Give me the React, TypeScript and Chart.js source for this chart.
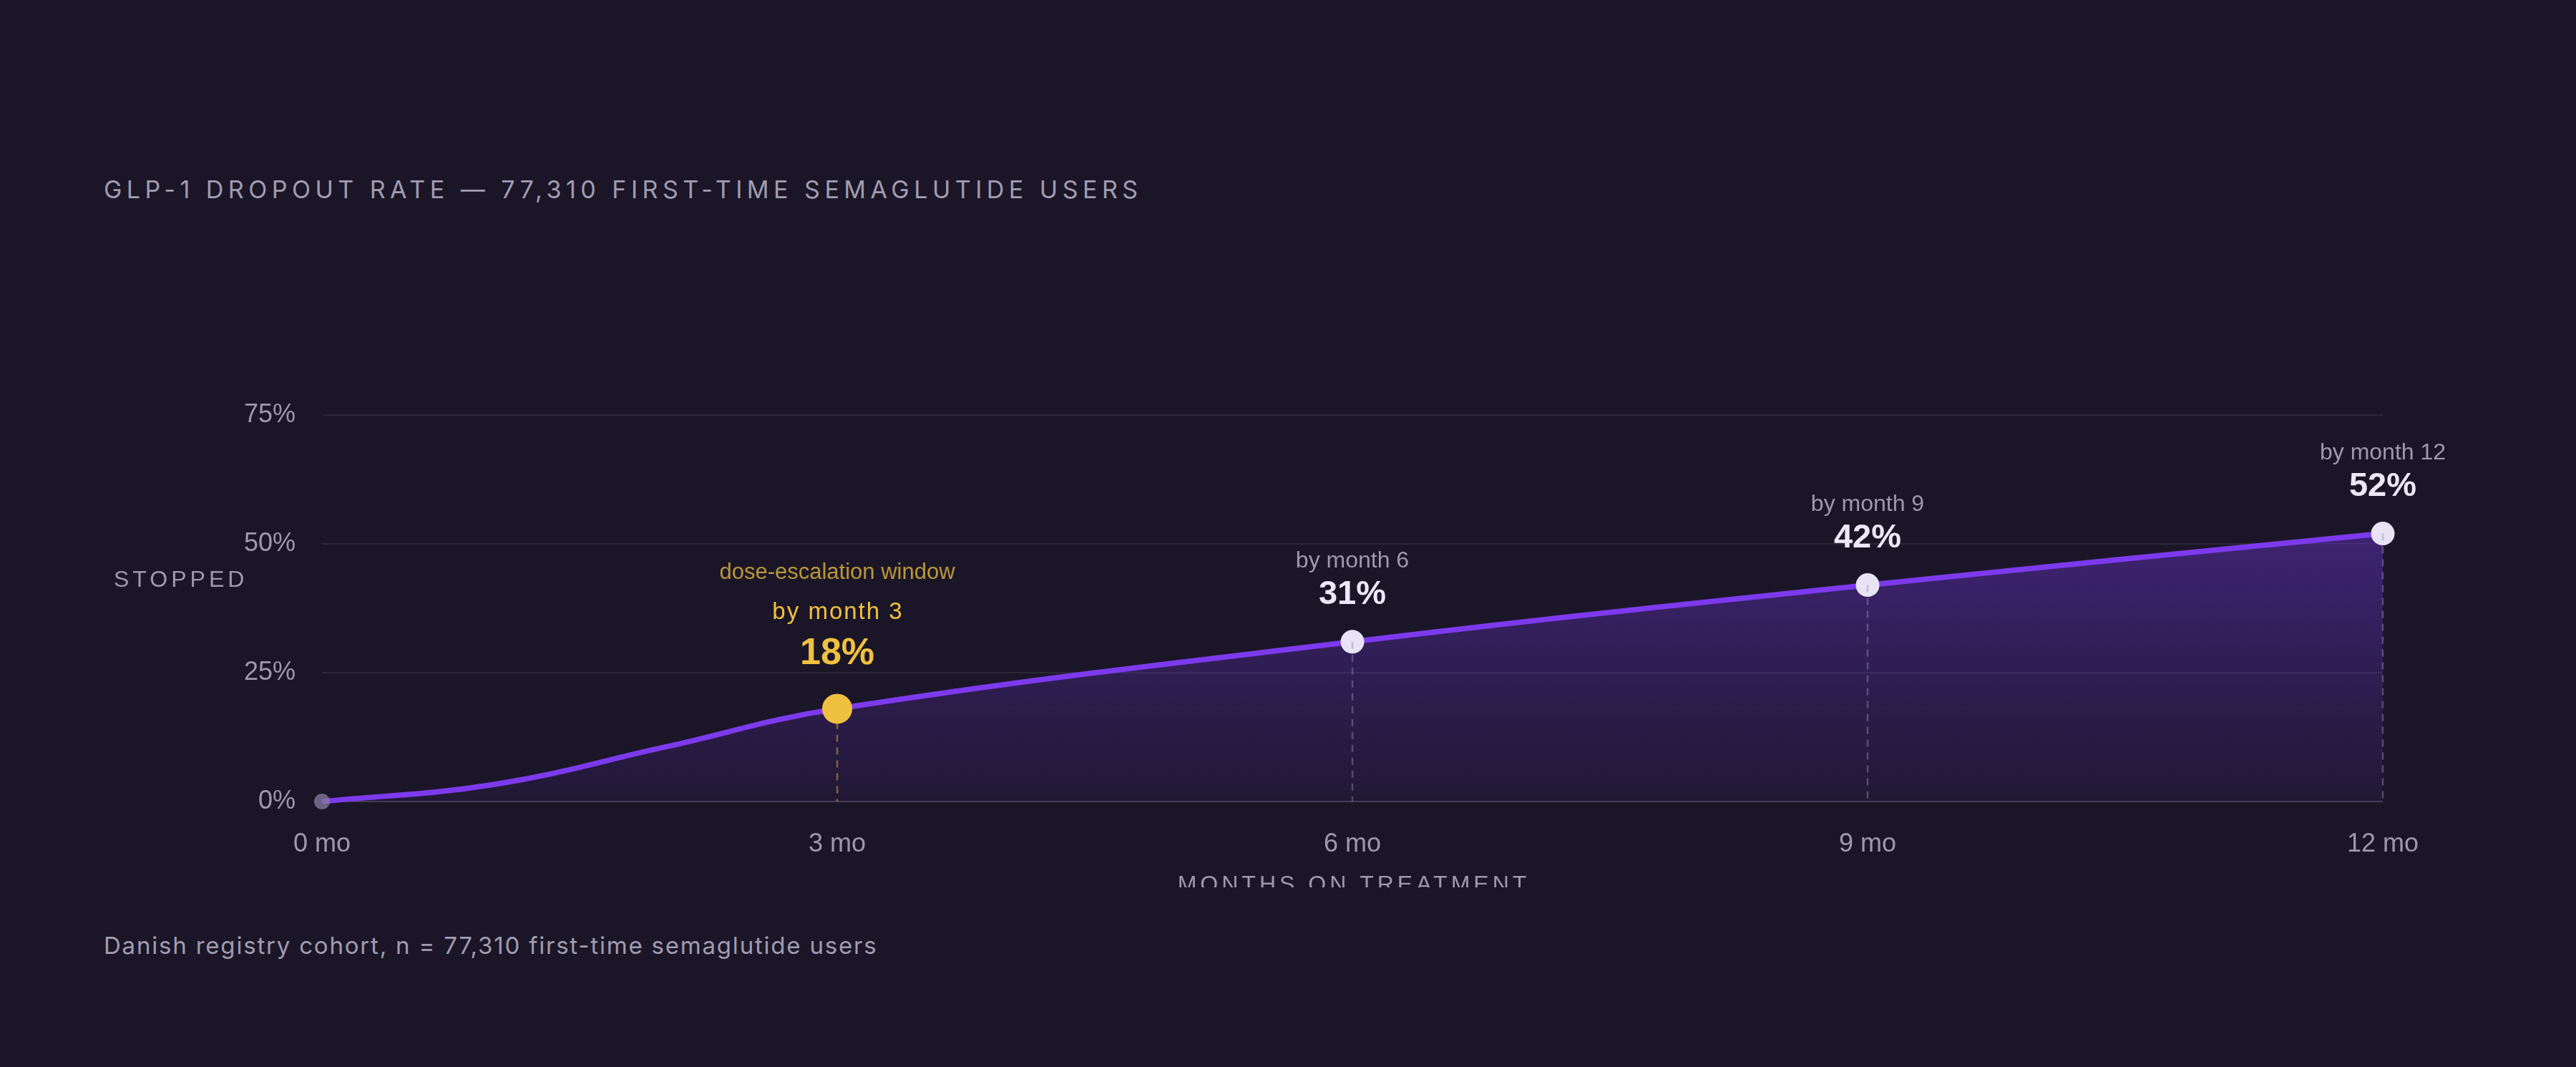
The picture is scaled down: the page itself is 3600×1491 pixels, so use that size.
import React, { useEffect, useRef } from "react";
import { Chart, registerables } from "chart.js";

Chart.register(...registerables);

// ---- data ----
const MONTHS = [0, 1, 2, 3, 6, 9, 12];
const STOPPED_PCT = [0, 3.3, 10.6, 18, 31, 42, 52];
const MILESTONE_MONTHS = [3, 6, 9, 12];
const HIGHLIGHT_MONTH = 3;
const X_TICK_STEP = 3;
const Y_TICK_STEP = 25;
const X_MAX = 12;
const Y_MAX = 75;

const TITLE = "GLP-1 DROPOUT RATE — 77,310 FIRST-TIME SEMAGLUTIDE USERS";
const FOOTNOTE = "Danish registry cohort, n = 77,310 first-time semaglutide users";
const X_TITLE = "MONTHS ON TREATMENT";
const Y_TITLE = "STOPPED";
const HIGHLIGHT_NOTE = "dose-escalation window";

const BG = "#1a1627";
const VIOLET = "#7c3aed";
const YELLOW = "#f0c040";
const MUTED = "#9d98ac";
const WHITE = "#ece8f8";
const SANS = '"Liberation Sans", Arial, Helvetica, sans-serif';

const overlayPlugin = {
  id: "overlay",
  afterDatasetsDraw(chart: any) {
    const { ctx, chartArea, scales } = chart;
    const xs = scales.x;
    const ys = scales.y;
    const y0 = ys.getPixelForValue(0);
    ctx.save();
    // dashed drop lines
    MILESTONE_MONTHS.forEach((m) => {
      const idx = MONTHS.indexOf(m);
      const px = xs.getPixelForValue(m);
      const py = ys.getPixelForValue(STOPPED_PCT[idx]);
      ctx.beginPath();
      ctx.setLineDash([10, 8]);
      ctx.lineWidth = 2.5;
      ctx.strokeStyle = m === HIGHLIGHT_MONTH ? "rgba(240,192,64,0.45)" : "rgba(150,140,178,0.45)";
      ctx.moveTo(px, py);
      ctx.lineTo(px, y0);
      ctx.stroke();
    });
    ctx.setLineDash([]);
    // annotation labels
    ctx.textAlign = "center";
    ctx.textBaseline = "alphabetic";
    MILESTONE_MONTHS.forEach((m) => {
      const idx = MONTHS.indexOf(m);
      const v = STOPPED_PCT[idx];
      const px = xs.getPixelForValue(m);
      const py = ys.getPixelForValue(v);
      if (m === HIGHLIGHT_MONTH) {
        const vb = py - 62;
        ctx.font = `bold 52px ${SANS}`;
        ctx.fillStyle = YELLOW;
        (ctx as any).letterSpacing = "0px";
        ctx.fillText(`${v}%`, px, vb);
        ctx.font = `33px ${SANS}`;
        (ctx as any).letterSpacing = "2px";
        ctx.fillText(`by month ${m}`, px + 1, vb - 63);
        (ctx as any).letterSpacing = "0px";
        ctx.font = `31px ${SANS}`;
        ctx.fillStyle = "rgba(240,192,64,0.75)";
        ctx.fillText(HIGHLIGHT_NOTE, px, vb - 63 - 56);
      } else {
        const vb = py - 53;
        (ctx as any).letterSpacing = "0px";
        ctx.font = `bold 47px ${SANS}`;
        ctx.fillStyle = WHITE;
        ctx.fillText(`${v}%`, px, vb);
        ctx.font = `32px ${SANS}`;
        ctx.fillStyle = MUTED;
        ctx.fillText(`by month ${m}`, px, vb - 51);
      }
    });
    // axis titles
    ctx.font = `32px ${SANS}`;
    ctx.fillStyle = MUTED;
    (ctx as any).letterSpacing = "5px";
    ctx.textAlign = "left";
    ctx.fillText(Y_TITLE, 159, 820);
    ctx.textAlign = "center";
    ctx.fillText(X_TITLE, (chartArea.left + chartArea.right) / 2 + 2, chartArea.bottom + 126);
    (ctx as any).letterSpacing = "0px";
    ctx.restore();
  },
};

function ChartCanvas() {
  const ref = useRef<HTMLCanvasElement | null>(null);
  useEffect(() => {
    const canvas = ref.current!;
    const points = MONTHS.map((m, i) => ({ x: m, y: STOPPED_PCT[i] }));
    const radiusFor = (m: number) =>
      m === 0 ? 11 : m === HIGHLIGHT_MONTH ? 21 : MILESTONE_MONTHS.includes(m) ? 16.5 : 0;
    const colorFor = (m: number) =>
      m === 0 ? "rgba(135,125,160,0.75)" : m === HIGHLIGHT_MONTH ? YELLOW : "#e8e4f5";
    const chart = new Chart(canvas, {
      type: "line",
      data: {
        datasets: [
          {
            data: points,
            borderColor: VIOLET,
            borderWidth: 7.5,
            tension: 0.4,
            fill: "origin",
            clip: false as any,
            backgroundColor: (c: any) => {
              const area = c.chart.chartArea;
              if (!area) return "rgba(124,58,237,0.3)";
              const g = c.chart.ctx.createLinearGradient(0, area.top, 0, area.bottom);
              g.addColorStop(0, "rgba(124,58,237,0.52)");
              g.addColorStop(1, "rgba(124,58,237,0.07)");
              return g;
            },
            pointRadius: (c: any) => radiusFor(MONTHS[c.dataIndex]),
            pointHoverRadius: (c: any) => radiusFor(MONTHS[c.dataIndex]),
            pointBackgroundColor: (c: any) => colorFor(MONTHS[c.dataIndex]),
            pointBorderWidth: 0,
            pointBorderColor: "transparent",
          },
        ],
      },
      options: {
        responsive: false,
        animation: false,
        devicePixelRatio: 1,
        layout: { padding: { left: 0, right: 270, top: 580, bottom: 0 } },
        plugins: { legend: { display: false }, tooltip: { enabled: false } },
        scales: {
          x: {
            type: "linear",
            min: 0,
            max: X_MAX,
            afterFit: (s: any) => {
              s.height = 120;
            },
            grid: { display: false, drawTicks: false },
            border: { display: false },
            ticks: {
              stepSize: X_TICK_STEP,
              padding: 38,
              color: MUTED,
              font: { family: SANS, size: 36 },
              callback: (v: any) => `${v} mo`,
            },
          },
          y: {
            min: 0,
            max: Y_MAX,
            afterFit: (s: any) => {
              s.width = 450;
            },
            grid: {
              drawTicks: false,
              lineWidth: 2,
              color: (c: any) => (c.tick && c.tick.value === 0 ? "rgba(255,255,255,0.17)" : "rgba(255,255,255,0.08)"),
            },
            border: { display: false },
            ticks: {
              stepSize: Y_TICK_STEP,
              padding: 37,
              color: MUTED,
              font: { family: SANS, size: 36 },
              callback: (v: any) => `${v}%`,
            },
          },
        },
      },
      plugins: [overlayPlugin],
    } as any);
    return () => chart.destroy();
  }, []);
  return (
    <canvas
      ref={ref}
      width={3600}
      height={1240}
      style={{ position: "absolute", left: 0, top: 0, width: 3600, height: 1240 }}
    />
  );
}

export default function App() {
  useEffect(() => {
    document.body.style.margin = "0";
    document.body.style.background = BG;
  }, []);
  return (
    <div style={{ position: "relative", width: 3600, height: 1491, background: BG, overflow: "hidden" }}>
      <div
        style={{
          position: "absolute",
          left: 145,
          top: 248,
          fontFamily: "Inter, sans-serif",
          fontSize: 34,
          lineHeight: "34px",
          letterSpacing: "6.5px",
          color: "#a19cb0",
          whiteSpace: "nowrap",
        }}
      >
        {TITLE}
      </div>
      <ChartCanvas />
      <div
        style={{
          position: "absolute",
          left: 145,
          top: 1305,
          fontFamily: "Inter, sans-serif",
          fontSize: 33,
          lineHeight: "33px",
          letterSpacing: "1.8px",
          color: "#a19cb0",
          whiteSpace: "nowrap",
        }}
      >
        {FOOTNOTE}
      </div>
    </div>
  );
}
